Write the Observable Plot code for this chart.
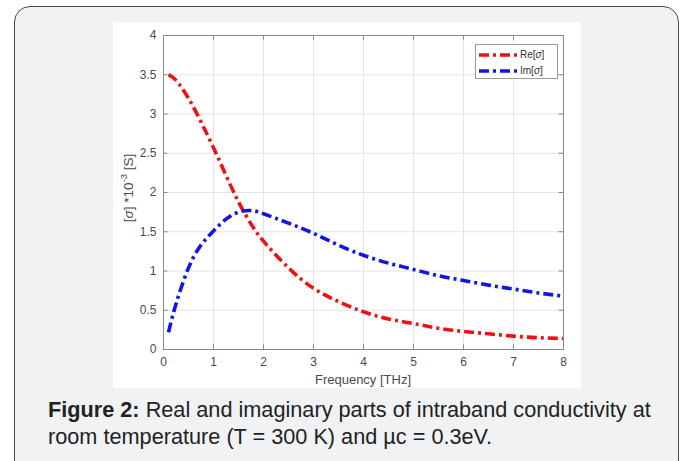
<!DOCTYPE html>
<html>
<head>
<meta charset="utf-8">
<script src="https://cdn.jsdelivr.net/npm/d3@7"></script>
<script src="https://cdn.jsdelivr.net/npm/@observablehq/plot@0.6"></script>
<style>
  html, body { margin: 0; padding: 0; background: #ffffff; width: 685px; height: 461px; overflow: hidden; }
  body { position: relative; font-family: "Liberation Sans", Arial, sans-serif; }
  #box { position: absolute; left: 14px; top: 6px; width: 665px; height: 470px; box-sizing: border-box;
         border: 1.5px solid #4a4a4a; border-radius: 16px; background: #f1f2f4; }
  #panel { position: absolute; left: 113px; top: 22px; width: 468px; height: 366px; background: #ffffff; }
  #legend { position: absolute; left: 475px; top: 44px; width: 83px; height: 35px; box-sizing: border-box;
            border: 1px solid #9a9a9a; background: #fff; font-size: 10px; color: #333; }
  .lg { position: absolute; left: 0; height: 14px; line-height: 14px; }
  .lg svg { position: absolute; left: 3px; top: 3px; }
  .lg span { position: absolute; left: 44px; white-space: nowrap; }
  #caption { position: absolute; left: 48px; top: 396px; width: 630px; font-size: 21.7px; line-height: 27px; color: #222; }
  #caption div { white-space: nowrap; }
  #caption .fig { font-weight: bold; }
</style>
</head>
<body>
<div id="box"></div>
<div id="panel"></div>
<div id="legend">
  <div class="lg" style="top:3px"><svg width="40" height="8"><line id="lgRe" x1="0" y1="4" x2="40" y2="4"/></svg><span>Re[<i>σ</i>]</span></div>
  <div class="lg" style="top:19px"><svg width="40" height="8"><line id="lgIm" x1="0" y1="4" x2="40" y2="4"/></svg><span>Im[<i>σ</i>]</span></div>
</div>
<div id="caption">
  <div><span class="fig">Figure 2:</span> <span>Real and imaginary parts of intraband conductivity at</span></div>
  <div><span>room temperature (T = 300 K) and µc = 0.3eV.</span></div>
</div>
<script>
// ---- data ----
const freq = [0.1, 0.25, 0.5, 0.75, 1, 1.25, 1.5, 1.75, 2, 2.5, 3, 3.5, 4, 4.5, 5, 5.5, 6, 6.5, 7, 7.5, 8];
const reSigma = [3.50, 3.43, 3.20, 2.90, 2.57, 2.22, 1.88, 1.60, 1.38, 1.04, 0.78, 0.61, 0.48, 0.39, 0.33, 0.27, 0.23, 0.20, 0.17, 0.15, 0.14];
const imSigma = [0.22, 0.58, 1.04, 1.33, 1.51, 1.66, 1.75, 1.77, 1.73, 1.61, 1.48, 1.33, 1.20, 1.10, 1.02, 0.94, 0.88, 0.82, 0.77, 0.72, 0.68];
const xTicks = [0, 1, 2, 3, 4, 5, 6, 7, 8];
const yTicks = [0, 0.5, 1, 1.5, 2, 2.5, 3, 3.5, 4];
const seriesNames = ["Re[σ]", "Im[σ]"];
const seriesColors = ["#ee1111", "#1414e6"];

const reData = freq.map((f, i) => ({f, v: reSigma[i]}));
const imData = freq.map((f, i) => ({f, v: imSigma[i]}));

const dash = "10,4,3,4";
const lineOpts = {x: "f", y: "v", strokeWidth: 3.6, strokeDasharray: dash, curve: "natural", strokeLinecap: "butt"};

for (const [id, c] of [["lgRe", seriesColors[0]], ["lgIm", seriesColors[1]]]) {
  const l = document.getElementById(id);
  l.setAttribute("stroke", c); l.setAttribute("stroke-width", "3.6"); l.setAttribute("stroke-dasharray", dash);
}

const chart = Plot.plot({
  width: 468,
  height: 366,
  marginLeft: 50,
  marginRight: 18,
  marginTop: 13,
  marginBottom: 39,
  style: {fontFamily: "'Liberation Sans', Arial, sans-serif", fontSize: "12px", color: "#4a4a4a", background: "transparent"},
  x: {domain: [0, 8]},
  y: {domain: [0, 4]},
  marks: [
    Plot.gridX(xTicks, {stroke: "#e4e4e4", strokeOpacity: 1}),
    Plot.gridY(yTicks, {stroke: "#e4e4e4", strokeOpacity: 1}),
    Plot.ruleX(xTicks, {x: d => d, y1: 0, y2: 0.06, stroke: "#888"}),
    Plot.ruleX(xTicks, {x: d => d, y1: 3.94, y2: 4, stroke: "#888"}),
    Plot.ruleY(yTicks, {y: d => d, x1: 0, x2: 0.09, stroke: "#888"}),
    Plot.ruleY(yTicks, {y: d => d, x1: 7.91, x2: 8, stroke: "#888"}),
    Plot.line(reData, {...lineOpts, stroke: seriesColors[0]}),
    Plot.line(imData, {...lineOpts, stroke: seriesColors[1]}),
    Plot.frame({stroke: "#8a8a8a"}),
    Plot.axisX({ticks: xTicks, tickSize: 0, tickPadding: 8, fontSize: 12, tickFormat: d => String(d),
      label: null}),
    Plot.axisY({ticks: yTicks, tickSize: 0, tickPadding: 7, fontSize: 12, tickFormat: d => String(d), label: null})
  ]
});
document.getElementById("panel").appendChild(chart);

const svg = d3.select(chart);
// x-axis label
svg.append("text")
  .attr("x", 50 + (468 - 50 - 18) / 2)
  .attr("y", 362)
  .attr("text-anchor", "middle")
  .attr("font-size", 13)
  .attr("fill", "#4a4a4a")
  .text("Frequency [THz]");
// y-axis label with italic sigma and superscript
const t = svg.append("text")
  .attr("transform", "translate(20,166) rotate(-90)")
  .attr("text-anchor", "middle")
  .attr("font-size", 13.5)
  .attr("fill", "#4a4a4a");
t.append("tspan").text("[");
t.append("tspan").attr("font-style", "italic").text("σ");
t.append("tspan").text("] *10");
t.append("tspan").attr("font-size", 9.5).attr("dy", -6).text("-3");
t.append("tspan").attr("dy", 6).text(" [S]");
</script>
</body>
</html>
